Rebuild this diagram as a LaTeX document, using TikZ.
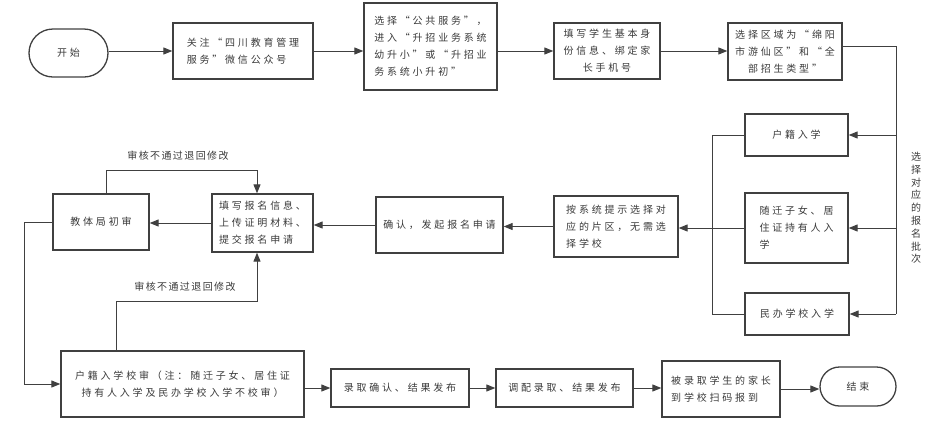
\documentclass[tikz,border=0pt]{standalone}
\usepackage{fontspec}
\newfontfamily\cjk{Noto Sans CJK SC}[LetterSpace=28]
\newfontfamily\cjklab{Noto Sans CJK SC}[LetterSpace=14]
\usetikzlibrary{arrows.meta,shapes.misc}
\definecolor{ln}{HTML}{404040}
\definecolor{tx}{HTML}{3A3A3A}
\tikzset{
  base/.style={draw=ln, line width=1.3pt, inner sep=0pt, text=tx,
    font=\cjk\fontsize{10}{17}\selectfont},
  box/.style={base, rectangle, align=left},
  cbox/.style={base, rectangle, align=center},
  term/.style={base, rounded rectangle},
  arr/.style={draw=ln, line width=1pt, -{Triangle[length=9pt,width=7pt]}},
  ln/.style={draw=ln, line width=1pt},
  lab/.style={text=tx, font=\cjklab\fontsize{10}{12.8}\selectfont, inner sep=0pt, align=center}
}
\begin{document}
\begin{tikzpicture}[x=1pt,y=-1pt]
\useasboundingbox (0,0) rectangle (949,437);
% top row
\node[term, minimum width=79, minimum height=48] (start) at (68.5,53) {开始};
\node[box, minimum width=140, minimum height=56] (b1) at (243,51) {关注“四川教育管理\\服务”微信公众号};
\node[box, minimum width=133, minimum height=87] (b2) at (430.5,46.5) {选择“公共服务”，\\进入“升招业务系统\\幼升小”或“升招业\\务系统小升初”};
\node[cbox, minimum width=106, minimum height=56] (b3) at (607,51) {填写学生基本身\\份信息、绑定家\\长手机号};
\node[cbox, minimum width=114, minimum height=57] (b4) at (785,51.5) {选择区域为“绵阳\\市游仙区”和“全\\部招生类型”};
% batch boxes
\node[cbox, minimum width=103, minimum height=42] (hj) at (796.5,135) {户籍入学};
\node[box, minimum width=103, minimum height=70] (sq) at (796.5,228) {随迁子女、居\\住证持有人入\\学};
\node[cbox, minimum width=104, minimum height=42] (mb) at (797,314) {民办学校入学};
\node[lab] (pc) at (916,208) {选\\择\\对\\应\\的\\报\\名\\批\\次};
% middle row
\node[box, minimum width=124, minimum height=61] (ax) at (616,226.5) {按系统提示选择对\\应的片区，无需选\\择学校};
\node[box, minimum width=127, minimum height=56] (qr) at (439.5,225) {确认，发起报名申请};
\node[box, minimum width=101, minimum height=58] (tw) at (262.5,223) {填写报名信息、\\上传证明材料、\\提交报名申请};
\node[cbox, minimum width=96, minimum height=56] (jt) at (101,222) {教体局初审};
\node[lab] (l1) at (178,156) {审核不通过退回修改};
\node[lab] (l2) at (185,287) {审核不通过退回修改};
% bottom row
\node[cbox, minimum width=243, minimum height=66] (xs) at (182.5,384) {户籍入学校审（注：随迁子女、居住证\\持有人入学及民办学校入学不校审）};
\node[box, minimum width=138, minimum height=38] (lq) at (400,388) {录取确认、结果发布};
\node[box, minimum width=137, minimum height=38] (tp) at (564.5,388) {调配录取、结果发布};
\node[box, minimum width=118, minimum height=56] (bl) at (721,389) {被录取学生的家长\\到学校扫码报到};
\node[term, minimum width=76, minimum height=39] (end) at (858,386.5) {结束};
\coordinate (busR) at (896,0);
\coordinate (busL) at (712,0);
% connectors
\draw[arr] (start.east |- b1.west) -- (b1.west);
\draw[arr] (b1.east) -- (b1.east -| b2.west);
\draw[arr] (b3.west -| b2.east) -- (b3.west);
\draw[arr] (b3.east) -- (b3.east -| b4.west);
\draw[ln] ([yshift=5pt]b4.east) -| (busR |- mb.east);
\draw[arr] (busR |- hj.east) -- (hj.east);
\draw[arr] (busR |- sq.east) -- (sq.east);
\draw[arr] (busR |- mb.east) -- (mb.east);
\draw[ln] (hj.west) -- (busL |- hj.west) -- (busL |- mb.west) -- (mb.west);
\draw[arr] (sq.west) -- (sq.west -| ax.east);
\draw[arr] (ax.west) -- (ax.west -| qr.east);
\draw[arr] (qr.west) -- (qr.west -| tw.east);
\draw[arr] (tw.west) -- (tw.west -| jt.east);
\draw[arr] ([xshift=5pt]jt.north) -- ++(0,-23) -| ([xshift=-5.5pt]tw.north);
\draw[arr] (jt.west) -- ++(-28,0) |- (xs.west);
\draw[arr] ([xshift=-66.5pt]xs.north) -- ++(0,-49) -| ([xshift=-5.5pt]tw.south);
\draw[arr] (lq.west -| xs.east) -- (lq.west);
\draw[arr] (lq.east) -- (tp.west);
\draw[arr] (tp.east) -- (tp.east -| bl.west);
\draw[arr] (bl.east) -- (bl.east -| end.west);
\end{tikzpicture}
\end{document}
